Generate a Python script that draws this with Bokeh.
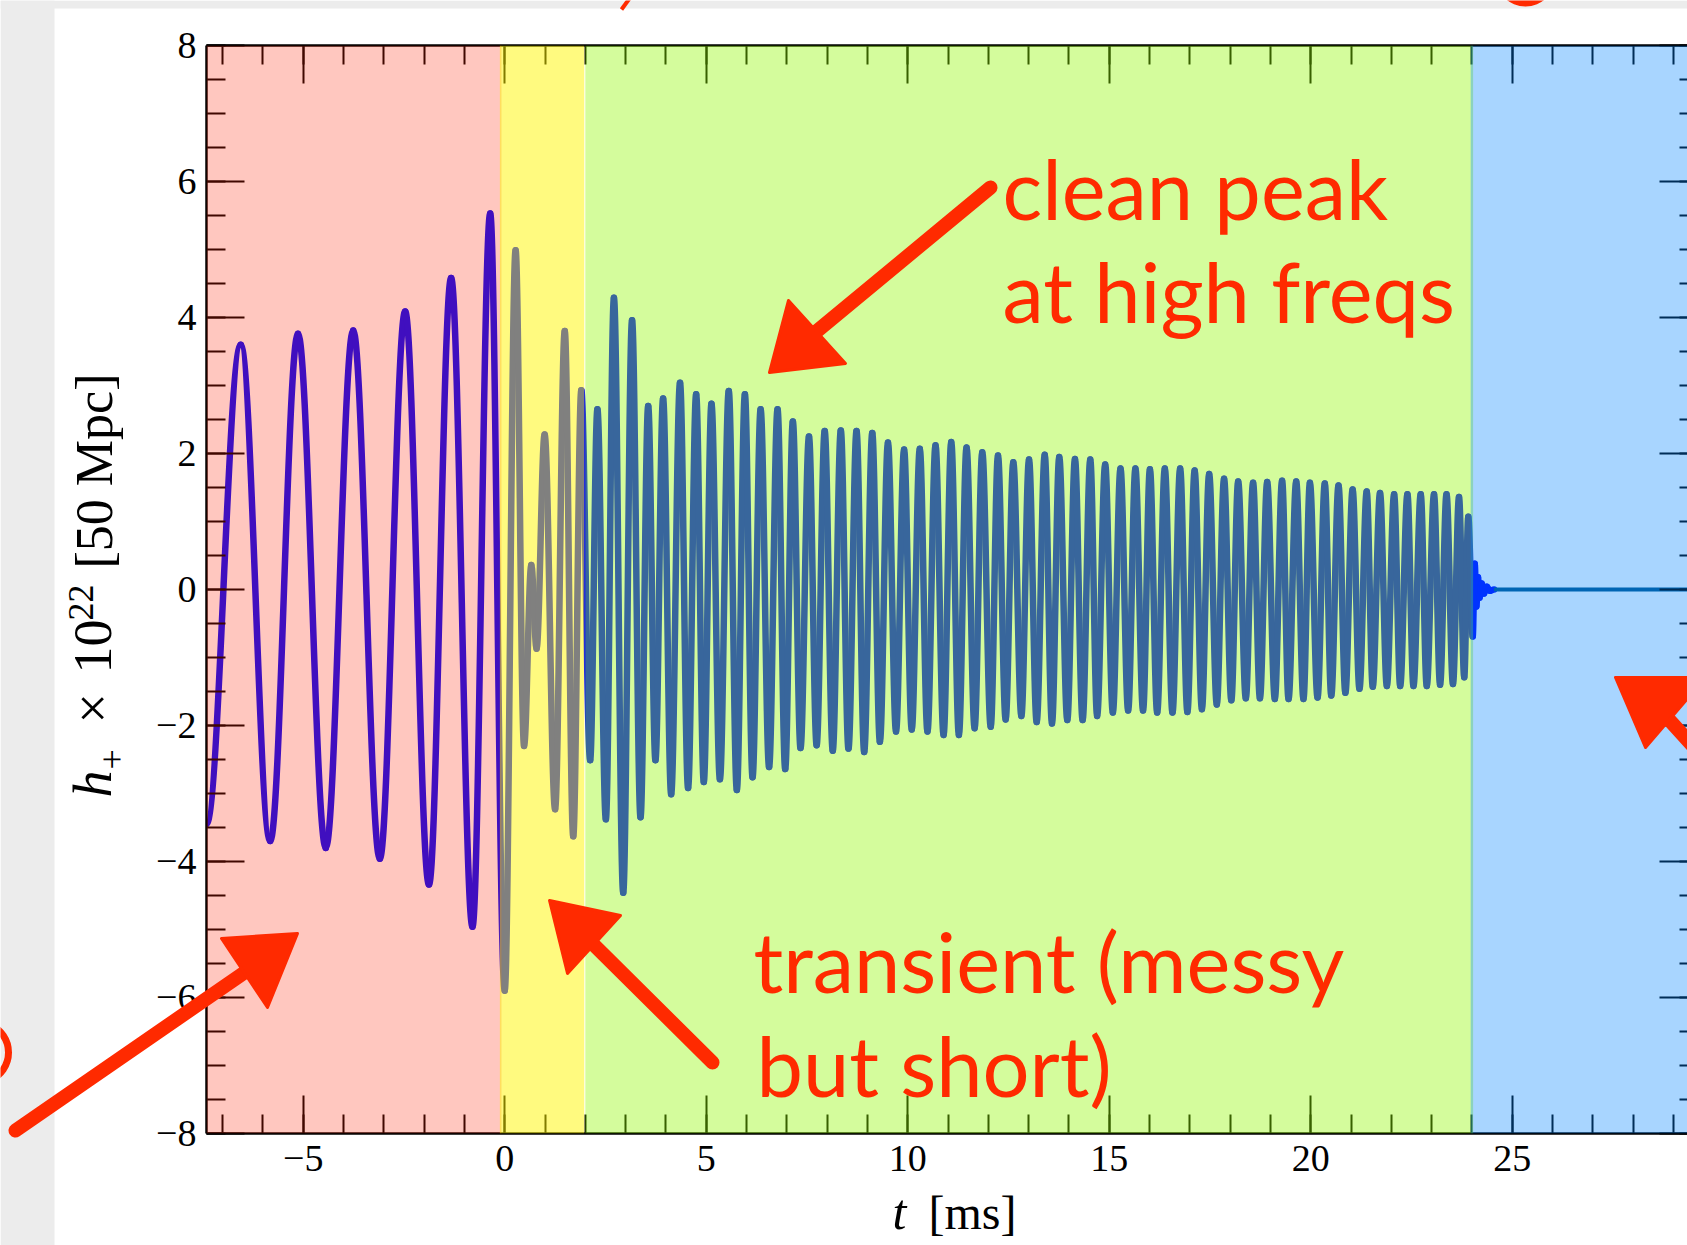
import numpy as np
from bokeh.plotting import figure
from bokeh.models import ColumnDataSource, Range1d, LinearAxis, FixedTicker, BoxAnnotation
from bokeh.core.properties import value
from bokeh.embed import file_html
from bokeh.resources import INLINE

# ---------------- data ----------------
# successive extrema (peaks / troughs) of the strain h+ x 1e22 versus t [ms]
wave_t = [-7.40, -6.55, -5.82, -5.13, -4.44, -3.76, -3.10, -2.47, -1.88, -1.33, -0.80, -0.36,
          0.00, 0.27, 0.48, 0.66, 0.79, 0.99, 1.25, 1.49, 1.70, 1.90,
          2.12, 2.30, 2.51, 2.71, 2.94, 3.16, 3.37, 3.56, 3.74, 3.93, 4.13, 4.35, 4.55, 4.75,
          4.94, 5.13, 5.34, 5.56, 5.76, 5.96, 6.15, 6.35, 6.56, 6.77, 6.96, 7.15, 7.34, 7.55,
          7.74, 7.94, 8.14, 8.34, 8.53, 8.73, 8.92, 9.12, 9.31, 9.51, 9.71, 9.91, 10.10, 10.30,
          10.49, 10.69, 10.89, 11.08, 11.27, 11.46, 11.66, 11.85, 12.06, 12.24, 12.43, 12.62,
          12.82, 13.01, 13.20, 13.40, 13.58, 13.76, 13.96, 14.15, 14.34, 14.53, 14.70, 14.90,
          15.09, 15.28, 15.47, 15.65, 15.84, 16.01, 16.19, 16.38, 16.57, 16.76, 16.94, 17.12,
          17.30, 17.48, 17.67, 17.85, 18.03, 18.20, 18.39, 18.57, 18.74, 18.92, 19.11, 19.29,
          19.45, 19.64, 19.82, 19.98, 20.17, 20.35, 20.51, 20.69, 20.86, 21.04, 21.21, 21.39,
          21.54, 21.72, 21.89, 22.07, 22.22, 22.40, 22.55, 22.73, 22.88, 23.06, 23.21, 23.37,
          23.53, 23.68, 23.81, 23.91, 24.02,
          24.07, 24.11, 24.15, 24.19, 24.24, 24.30, 24.37, 24.45, 24.55]
wave_h = [-3.45, 3.60, -3.70, 3.76, -3.80, 3.81, -3.96, 4.09, -4.34, 4.58, -4.96, 5.53,
          -5.90, 4.99, -2.30, 0.36, -0.87, 2.28, -3.23, 3.80, -3.63, 2.93,
          -2.51, 2.65, -3.38, 4.29, -4.46, 3.96, -3.35, 2.70, -2.51, 2.81, -3.01, 3.04, -2.92, 2.87,
          -2.83, 2.73, -2.79, 2.92, -2.95, 2.87, -2.76, 2.65, -2.61, 2.65, -2.64, 2.47, -2.33, 2.25,
          -2.29, 2.33, -2.37, 2.34, -2.34, 2.33, -2.39, 2.30, -2.24, 2.16, -2.09, 2.06, -2.06, 2.07,
          -2.09, 2.12, -2.14, 2.17, -2.14, 2.09, -2.04, 2.02, -2.02, 1.97, -1.91, 1.87,
          -1.86, 1.91, -1.95, 1.98, -1.97, 1.95, -1.92, 1.92, -1.92, 1.91, -1.86, 1.84,
          -1.81, 1.78, -1.78, 1.78, -1.78, 1.77, -1.81, 1.78, -1.81, 1.78, -1.80, 1.75,
          -1.76, 1.70, -1.69, 1.63, -1.63, 1.59, -1.60, 1.57, -1.60, 1.58, -1.61, 1.60,
          -1.61, 1.59, -1.61, 1.57, -1.59, 1.56, -1.56, 1.53, -1.52, 1.47, -1.46, 1.44,
          -1.43, 1.42, -1.42, 1.40, -1.42, 1.40, -1.42, 1.40, -1.42, 1.40, -1.40, 1.40,
          -1.39, 1.36, -1.29, 1.07, -0.69,
          0.38, -0.25, 0.18, -0.12, 0.09, -0.06, 0.04, -0.02, 0.00]
post_t = [24.55, 29.6]
post_h = [0.0, 0.0]

X_START, X_END = -7.4, 29.35
Y_START, Y_END = -8.0, 8.0

region_name = ["inspiral", "transient", "clean peak", "post"]
region_start = [X_START, -0.12, 2.0, 23.97]
region_end = [-0.08, 1.975, 24.03, X_END]
region_color = ["#FF2000", "#FFF500", "#90F800", "#0084FF"]
region_alpha = [0.25, 0.5, 0.39, 0.34]

x_tick_values = [-5, 0, 5, 10, 15, 20, 25]
x_tick_labels = ["\u22125", "0", "5", "10", "15", "20", "25"]
y_tick_values = [-8, -6, -4, -2, 0, 2, 4, 6, 8]
y_tick_labels = ["\u22128", "\u22126", "\u22124", "\u22122", "0", "2", "4", "6", "8"]

W, H = 1687, 1245
RED = "#FF2A00"
CURVE = "#000AFF"
SERIF = "Liberation Serif"
SANS = "Lato"

# ================= main chart =================
p = figure(width=W, height=H, x_range=Range1d(X_START, X_END), y_range=Range1d(Y_START, Y_END),
           output_backend="svg", toolbar_location=None,
           min_border_left=206, min_border_right=0, min_border_top=45, min_border_bottom=112,
           background_fill_color="white", border_fill_color="white", outline_line_color=None)
p.xgrid.visible = False
p.ygrid.visible = False

x_minor = [float(v) for v in range(-7, 30)]
y_minor = [Y_START + 0.5 * i for i in range(33)]
xt = FixedTicker(ticks=x_tick_values, minor_ticks=x_minor)
yt = FixedTicker(ticks=y_tick_values, minor_ticks=y_minor)


def style_axis(ax, major_in, minor_in, labels, line=True):
    ax.major_tick_in = major_in
    ax.major_tick_out = 0
    ax.minor_tick_in = minor_in
    ax.minor_tick_out = 0
    ax.major_tick_line_width = 2
    ax.minor_tick_line_width = 2
    ax.major_tick_line_color = "black"
    ax.minor_tick_line_color = "black"
    ax.axis_line_width = 2.5
    ax.axis_line_color = "black" if line else None
    ax.major_label_overrides = labels
    ax.major_label_text_font = SERIF
    ax.major_label_text_font_size = "38px"
    ax.major_label_text_color = "black"


xb = p.xaxis[0]
xb.ticker = xt
style_axis(xb, 38, 19, dict(zip(x_tick_values, x_tick_labels)))
xb.major_label_standoff = 12

yl = p.yaxis[0]
yl.ticker = yt
style_axis(yl, 38, 19, dict(zip(y_tick_values, y_tick_labels)))
yl.major_label_standoff = 10

xa = LinearAxis(ticker=xt)
style_axis(xa, 38, 19, {v: "" for v in x_tick_values})
xa.major_label_standoff = 0
p.add_layout(xa, "above")

yr = LinearAxis(ticker=yt)
style_axis(yr, 28, 8, {v: "" for v in y_tick_values}, line=False)
yr.major_label_standoff = 0
p.add_layout(yr, "right")

# waveform: each half cycle drawn as a bezier between successive extrema
t = np.array(wave_t)
h = np.array(wave_h)
k = 0.363
dt = t[1:] - t[:-1]
src = ColumnDataSource(dict(x0=t[:-1], y0=h[:-1], x1=t[1:], y1=h[1:],
                            cx0=t[:-1] + k * dt, cy0=h[:-1], cx1=t[1:] - k * dt, cy1=h[1:]))
p.bezier(x0="x0", y0="y0", x1="x1", y1="y1", cx0="cx0", cy0="cy0", cx1="cx1", cy1="cy1",
         source=src, line_color=CURVE, line_width=6.5, line_cap="round")
p.line(post_t, post_h, line_color="#00568D", line_width=4)

# coloured translucent regions, drawn over the curve and the ticks
for s, e, c, a in zip(region_start, region_end, region_color, region_alpha):
    p.add_layout(BoxAnnotation(left=s, right=e, bottom=Y_START, top=Y_END,
                               fill_color=c, fill_alpha=a, line_color=None))

# ================= transparent overlay in page pixels (slide annotations, titles) =================
ov = figure(width=W, height=H, x_range=Range1d(0, W), y_range=Range1d(0, H),
            output_backend="svg", toolbar_location=None, min_border=0,
            x_axis_location=None, y_axis_location=None,
            background_fill_color=None, border_fill_color=None, outline_line_color=None)
ov.grid.visible = False
ov.styles = {"position": "absolute", "left": "0px", "top": "0px"}


def Y(y):
    return H - y


# grey paper border of the slide
ov.quad(left=[0, 0], right=[54, W], top=[Y(0), Y(0)], bottom=[Y(H), Y(8)],
        fill_color="#ECECEC", line_color=None)
ov.arc(x=[-22], y=[Y(1052)], radius=30, start_angle=-1.2, end_angle=1.2,
       line_color=RED, line_width=7)
ov.circle(x=[1525], y=[Y(-24)], radius=30, fill_color=RED, line_color=None)
ov.segment(x0=[629], y0=[Y(-2)], x1=[621], y1=[Y(9)], line_color=RED, line_width=4)

SHIFT = 0.39   # offset between the glyph anchor and the drawn baseline, in em


def txt(X, Yp, s, size, style="normal", font=SERIF, vertical=False, color="black"):
    if vertical:
        x, y, ang = X - SHIFT * size, Y(Yp), np.pi / 2
    else:
        x, y, ang = X, Y(Yp - SHIFT * size), 0.0
    ov.text(x=[x], y=[y], text=[s], angle=ang, text_font=value(font),
            text_font_style=style, text_font_size=f"{size}px", text_color=color,
            text_baseline="alphabetic", text_align="left")


# axis titles
txt(114, 797, "h", 54, "italic", vertical=True)
txt(126, 769, "+", 36, vertical=True)
txt(114, 723, "\u00d7", 54, vertical=True)
txt(114, 673, "10", 54, vertical=True)
txt(95, 620, "22", 36, vertical=True)
txt(114, 568, "[50 Mpc]", 52, vertical=True)
txt(892, 1231, "t", 50, "italic")
txt(928, 1231, "[ms]", 48)

# hand-written slide notes
txt(1002, 220, "clean peak", 83, font=SANS, color=RED)
txt(1002, 323, "at high freqs", 83, font=SANS, color=RED)
txt(753, 993, "transient (messy", 83, font=SANS, color=RED)
txt(756, 1097, "but short)", 83, font=SANS, color=RED)

shafts = [((15, 1130), (244, 972)),
          ((712, 1062), (593, 944)),
          ((990, 187), (816, 331)),
          ((1662, 712), (1760, 820))]
heads = [[(221, 938), (297, 933), (267, 1007)],
         [(549, 900), (620, 915), (567, 973)],
         [(788, 300), (845, 363), (769, 372)],
         [(1615, 677), (1705, 677), (1645, 747)]]
ov.segment(x0=[s[0][0] for s in shafts], y0=[Y(s[0][1]) for s in shafts],
           x1=[s[1][0] for s in shafts], y1=[Y(s[1][1]) for s in shafts],
           line_color=RED, line_width=14, line_cap="round")
ov.patches(xs=[[v[0] for v in tri] for tri in heads], ys=[[Y(v[1]) for v in tri] for tri in heads],
           fill_color=RED, line_color=RED, line_width=3, line_join="round")

open("out.html", "w").write(file_html([p, ov], INLINE))
